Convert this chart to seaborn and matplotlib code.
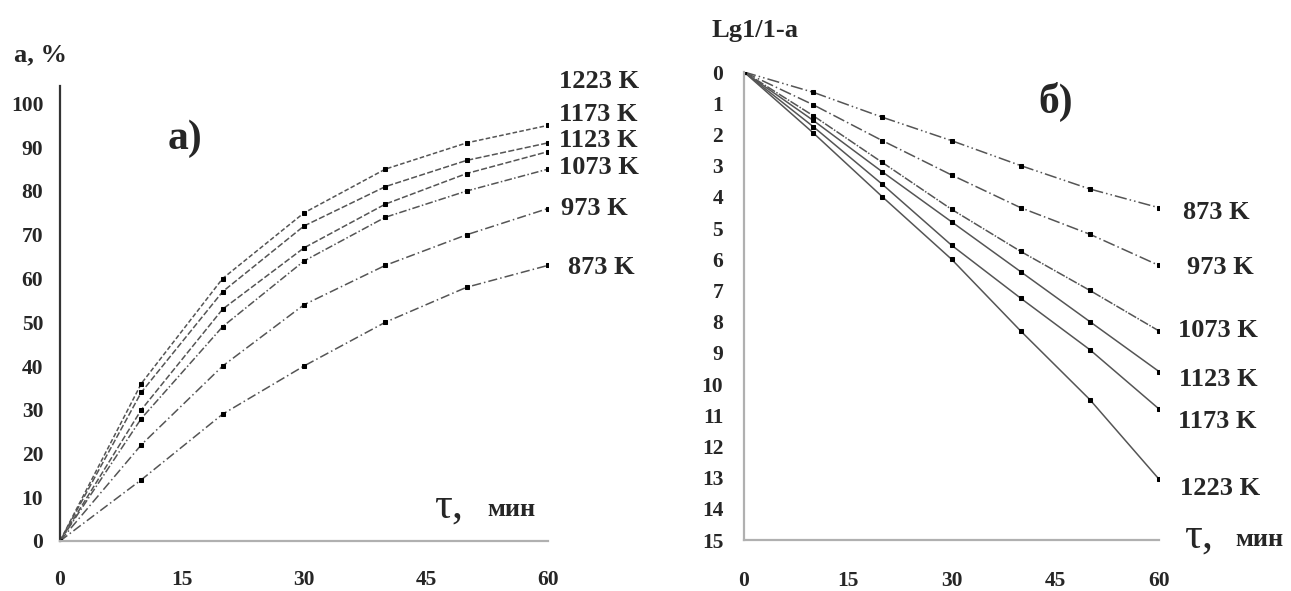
import numpy as np
import pandas as pd
import matplotlib
matplotlib.use("Agg")
import matplotlib.pyplot as plt
import seaborn as sns

# ---------------- data ----------------
times = [0, 10, 20, 30, 40, 50, 60]
temps = ["873 K", "973 K", "1073 K", "1123 K", "1173 K", "1223 K"]

# panel a): degree of conversion a, %
a_873 = [0, 14, 29, 40, 50, 58, 63]
a_973 = [0, 22, 40, 54, 63, 70, 76]
a_1073 = [0, 28, 49, 64, 74, 80, 85]
a_1123 = [0, 30, 53, 67, 77, 84, 89]
a_1173 = [0, 34, 57, 72, 81, 87, 91]
a_1223 = [0, 36, 60, 75, 85, 91, 95]

# panel б): Lg1/1-a
lg_873 = [0, 0.65, 1.45, 2.2, 3.0, 3.75, 4.35]
lg_973 = [0, 1.05, 2.2, 3.3, 4.35, 5.2, 6.2]
lg_1073 = [0, 1.4, 2.9, 4.4, 5.75, 7.0, 8.3]
lg_1123 = [0, 1.55, 3.2, 4.8, 6.4, 8.0, 9.6]
lg_1173 = [0, 1.75, 3.6, 5.55, 7.25, 8.9, 10.8]
lg_1223 = [0, 1.95, 4.0, 6.0, 8.3, 10.5, 13.05]

x_ticks = [0, 15, 30, 45, 60]
a_ticks = [0, 10, 20, 30, 40, 50, 60, 70, 80, 90, 100]
lg_ticks = list(range(0, 16))

a_series = [a_873, a_973, a_1073, a_1123, a_1173, a_1223]
lg_series = [lg_873, lg_973, lg_1073, lg_1123, lg_1173, lg_1223]

rows_a, rows_b = [], []
for T, ys in zip(temps, a_series):
    for t, v in zip(times, ys):
        rows_a.append({"t": t, "v": v, "T": T})
for T, ys in zip(temps, lg_series):
    for t, v in zip(times, ys):
        rows_b.append({"t": t, "v": v, "T": T})
df_a = pd.DataFrame(rows_a)
df_b = pd.DataFrame(rows_b)

# ---------------- style ----------------
sns.set_style("white")
plt.rcParams['font.family'] = ['Liberation Serif', 'DejaVu Serif']

fig = plt.figure(figsize=(12.91, 5.91), dpi=100)
W, H = 1291, 591
axA = fig.add_axes([60 / W, 1 - 541 / H, 488 / W, 455 / H])
axB = fig.add_axes([744 / W, 1 - 540 / H, 415 / W, 468 / H])

line_col = "#555555"
pal = {T: line_col for T in temps}
dashes_a = {"873 K": (6, 2, 1, 2), "973 K": (6, 2, 1, 2), "1073 K": (5, 1.5, 1, 1.5),
            "1123 K": (4, 1.5), "1173 K": (4, 1.5), "1223 K": (3, 1.5)}
dashes_b = {"873 K": (8, 2, 1, 2, 1, 2), "973 K": (8, 2, 1, 2), "1073 K": (6, 1, 1, 1),
            "1123 K": "", "1173 K": "", "1223 K": ""}
markers = {T: "s" for T in temps}

sns.lineplot(data=df_a, x="t", y="v", hue="T", style="T", palette=pal,
             dashes=dashes_a, markers=markers, markersize=3.5,
             markeredgecolor="black", markerfacecolor="black",
             linewidth=1.1, legend=False, ax=axA)
sns.lineplot(data=df_b, x="t", y="v", hue="T", style="T", palette=pal,
             dashes=dashes_b, markers=markers, markersize=3.5,
             markeredgecolor="black", markerfacecolor="black",
             linewidth=1.1, legend=False, ax=axB)

tick_font = dict(family=['Liberation Serif'], weight='bold', size=15.5)
lab_font = dict(family=['Liberation Serif'], weight='bold', size=19)

# ---- panel a ----
axA.set_xlim(0, 60)
axA.set_ylim(0, 104)
axA.set_xticks(x_ticks)
axA.set_yticks(a_ticks)
axA.set_xticklabels([str(v) for v in x_ticks], fontdict=tick_font)
axA.set_yticklabels([str(v) for v in a_ticks], fontdict=tick_font)
axA.tick_params(axis='x', length=0, pad=21)
axA.tick_params(axis='y', length=4, width=1, color="#555555", pad=8, direction='out')
for s in ["top", "right"]:
    axA.spines[s].set_visible(False)
axA.spines["left"].set_color("#333333")
axA.spines["left"].set_linewidth(1.6)
axA.spines["bottom"].set_color("#b0b0b0")
axA.spines["bottom"].set_linewidth(1.6)
axA.set_xlabel("")
axA.set_ylabel("")

labA_pos = {"1223 K": (61.4, 105.0), "1173 K": (61.4, 97.5), "1123 K": (61.4, 91.5),
            "1073 K": (61.4, 85.3), "973 K": (61.6, 76.0), "873 K": (62.4, 62.5)}
for T in temps:
    x, y = labA_pos[T]
    axA.text(x, y, T, ha='left', va='center', clip_on=False, **lab_font)

axA.text(13.2, 92, "a)", ha='left', va='center', family=['Liberation Serif'],
         weight='bold', size=30)
axA.text(46.0, 7.8, "τ,", ha='left', va='center', family=['Liberation Serif'], size=32)
axA.text(52.6, 7.2, "мин", ha='left', va='center', family=['Liberation Serif'],
         weight='bold', size=19)
fig.text(14 / W, 1 - 55 / H, "a, %", ha='left', va='center', **lab_font)

# ---- panel b ----
axB.set_xlim(0, 60)
axB.set_ylim(15, 0)
axB.set_xticks(x_ticks)
axB.set_yticks(lg_ticks)
axB.set_xticklabels([str(v) for v in x_ticks], fontdict=tick_font)
axB.set_yticklabels([str(v) for v in lg_ticks], fontdict=tick_font)
axB.tick_params(axis='x', length=7, width=1.2, color="#b0b0b0", pad=15, direction='out')
axB.tick_params(axis='y', length=5, width=1.2, color="#b0b0b0", pad=10, direction='out')
for s in ["top", "right"]:
    axB.spines[s].set_visible(False)
for s in ["left", "bottom"]:
    axB.spines[s].set_color("#b0b0b0")
    axB.spines[s].set_linewidth(1.6)
axB.set_xlabel("")
axB.set_ylabel("")

labB_pos = {"873 K": (63.4, 4.5), "973 K": (64.0, 6.25), "1073 K": (62.8, 8.27),
            "1123 K": (62.9, 9.85), "1173 K": (62.8, 11.2), "1223 K": (63.0, 13.35)}
for T in temps:
    x, y = labB_pos[T]
    axB.text(x, y, T, ha='left', va='center', clip_on=False, **lab_font)

axB.text(42.6, 0.95, "б)", ha='left', va='center', family=['Liberation Serif'],
         weight='bold', size=30)
axB.text(63.6, 14.9, "τ,", ha='left', va='center', family=['Liberation Serif'], size=32,
         clip_on=False)
axB.text(71.0, 15.0, "мин", ha='left', va='center', family=['Liberation Serif'],
         weight='bold', size=19, clip_on=False)
fig.text(712 / W, 1 - 30 / H, "Lg1/1-a", ha='left', va='center', **lab_font)

fig.savefig("out.png", dpi=100, facecolor="white")
